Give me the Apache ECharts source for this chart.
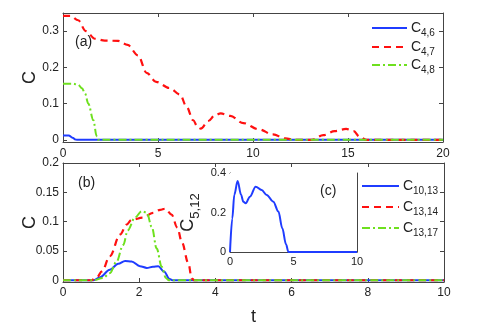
<!DOCTYPE html>
<html><head><meta charset="utf-8">
<script src="https://cdn.jsdelivr.net/npm/echarts@6/dist/echarts.min.js"></script>
<style>html,body{margin:0;padding:0;background:#fff}#c{width:491px;height:327px}</style>
</head><body><div id="c"></div>
<script>
// Panel (a): C vs t
const a_C46 = [[0,0.012],[0.3,0.012],[0.5,0.006],[0.65,0.001],[0.75,0],[20,0]];
const a_C47 = [[0,0.342],[0.4,0.342],[0.8,0.33],[1.2,0.30],[1.68,0.279],[2.2,0.274],[2.9,0.273],[3.4,0.262],[3.95,0.233],[4.4,0.185],[4.9,0.160],[5.6,0.143],[6.16,0.125],[6.5,0.092],[6.85,0.054],[7.1,0.034],[7.25,0.031],[7.65,0.052],[8.0,0.068],[8.3,0.073],[8.8,0.066],[9.5,0.046],[10.3,0.029],[11.05,0.015],[11.7,0.004],[12.2,0],[13.1,0],[13.7,0.013],[14.3,0.024],[14.9,0.030],[15.3,0.024],[15.6,0.009],[15.95,0],[20,0]];
const a_C48 = [[0,0.155],[0.5,0.155],[0.8,0.152],[1.0,0.142],[1.16,0.128],[1.33,0.10],[1.6,0.054],[1.77,0.01],[1.85,0],[20,0]];
// Panel (b)
const b_C1013 = [[0,0],[0.8,0],[0.97,0.005],[1.23,0.018],[1.45,0.028],[1.63,0.033],[1.8,0.032],[2.02,0.024],[2.2,0.021],[2.36,0.023],[2.5,0.024],[2.65,0.015],[2.8,0.002],[2.87,0],[10,0]];
const b_C1314 = [[0,0],[0.75,0],[0.9,0.006],[1.02,0.015],[1.23,0.041],[1.5,0.078],[1.67,0.095],[1.8,0.103],[2.1,0.107],[2.36,0.115],[2.55,0.120],[2.68,0.122],[2.85,0.112],[3.0,0.09],[3.12,0.065],[3.29,0.029],[3.38,0.003],[3.45,0],[10,0]];
const b_C1317 = [[0,0],[0.8,0],[1.05,0.004],[1.23,0.012],[1.4,0.031],[1.58,0.06],[1.7,0.085],[1.89,0.107],[2.07,0.118],[2.2,0.115],[2.33,0.091],[2.46,0.054],[2.59,0.023],[2.7,0.004],[2.78,0],[10,0]];
// Inset (c)
const c_C512 = [[0,0],[0.18,0.17],[0.34,0.29],[0.6,0.36],[0.87,0.29],[1.05,0.255],[1.24,0.247],[1.57,0.28],[2.02,0.331],[2.49,0.314],[2.89,0.289],[3.41,0.255],[3.81,0.205],[4.12,0.12],[4.41,0.039],[4.6,0],[10,0]];
// Ticks
const aXTicks = [0,5,10,15,20];
const aYTicks = [0,0.1,0.2,0.3];
const bXTicks = [0,2,4,6,8,10];
const bYTicks = [0,0.05,0.1,0.15,0.2];
const cXTicks = [0,5,10];
const cYTicks = [0,0.2,0.4];
// Legend subscripts
const legA = ['4,6','4,7','4,8'];
const legB = ['10,13','13,14','13,17'];

const AX = '#444', TXT = '#222';
const BLUE = '#1f3cff', RED = '#ff1010', GREEN = '#6ee01e';
const FONT = 'Liberation Sans';
const COLORS = [BLUE, RED, GREEN];
const DASH = [7,5], DASHDOT = [8,3,2,3];
const TYPES = ['solid', DASH, DASHDOT];

function xAx(grid, min, max, ticks, pos, show, lblSize, margin) {
  return {type:'value', gridIndex:grid, min:min, max:max, position:pos,
    axisLine:{show:true, onZero:false, lineStyle:{color:AX, width:1}},
    axisTick:{show:true, inside:true, length:4, customValues:ticks, lineStyle:{color:AX}},
    axisLabel:{show:show, customValues:ticks, color:TXT, fontSize:lblSize, fontFamily:FONT, margin:margin},
    splitLine:{show:false}};
}
function yAx(grid, min, max, ticks, pos, show, lblSize, margin, fmt) {
  return {type:'value', gridIndex:grid, min:min, max:max, position:pos,
    axisLine:{show:true, onZero:false, lineStyle:{color:AX, width:1}},
    axisTick:{show:true, inside:true, length:4, customValues:ticks, lineStyle:{color:AX}},
    axisLabel:{show:show, customValues:ticks, color:TXT, fontSize:lblSize, fontFamily:FONT, margin:margin, formatter:fmt},
    splitLine:{show:false}};
}
const fmtNum = v => String(+v.toFixed(3));
const nameStyle = {fontSize:18, color:TXT, fontFamily:FONT};

const xAxes = [
  xAx(0,0,20,aXTicks,'bottom',true,12,6),
  xAx(0,0,20,aXTicks,'top',false,12,6),
  Object.assign(xAx(1,0,10,bXTicks,'bottom',true,12,5),{name:'t',nameLocation:'middle',nameGap:26,nameMoveOverlap:false,nameTextStyle:nameStyle}),
  xAx(1,0,10,bXTicks,'top',false,12,5),
  xAx(2,0,10,cXTicks,'bottom',true,11,4),
  xAx(2,0,10,cXTicks,'top',false,11,4)
];
const yAxes = [
  Object.assign(yAx(0,-0.006,0.35,aYTicks,'left',true,12,4,fmtNum),{name:'C',nameLocation:'middle',nameGap:24,nameMoveOverlap:false,nameRotate:90,nameTextStyle:nameStyle}),
  yAx(0,-0.006,0.35,aYTicks,'right',false,12,4,fmtNum),
  Object.assign(yAx(1,-0.003,0.2,bYTicks,'left',true,12,4,fmtNum),{name:'C',nameLocation:'middle',nameGap:24,nameMoveOverlap:false,nameRotate:90,nameTextStyle:nameStyle}),
  yAx(1,-0.003,0.2,bYTicks,'right',false,12,4,fmtNum),
  Object.assign(yAx(2,0,0.4,cYTicks,'left',true,11,4,fmtNum),{name:'{c|C}{s|5,12}',nameLocation:'middle',nameGap:28,nameRotate:90,
     nameTextStyle:{color:TXT,fontFamily:FONT,rich:{c:{fontSize:18,fontFamily:FONT,color:TXT,verticalAlign:'bottom',lineHeight:18,padding:[0,0,5,0]},s:{fontSize:13,fontFamily:FONT,color:TXT,verticalAlign:'bottom',lineHeight:13}}}}),
  yAx(2,0,0.4,cYTicks,'right',false,11,4,fmtNum)
];

function ser(name, data, xi, yi, k, width) {
  return {name:name, type:'line', xAxisIndex:xi, yAxisIndex:yi, data:data, showSymbol:false, symbol:'none',
    smooth:0.35, smoothMonotone:'x', lineStyle:{color:COLORS[k], width:width, type:TYPES[k]}, itemStyle:{color:COLORS[k]}, z:3};
}
const series = [
  ser('C4,6', a_C46, 0, 0, 0, 2),
  ser('C4,7', a_C47, 0, 0, 1, 2.2),
  ser('C4,8', a_C48, 0, 0, 2, 2),
  ser('C10,13', b_C1013, 2, 2, 0, 2),
  ser('C13,14', b_C1314, 2, 2, 1, 2.2),
  ser('C13,17', b_C1317, 2, 2, 2, 2),
  Object.assign(ser('C5,12', c_C512, 4, 4, 0, 2), {z:5})
];

// legend drawn as graphic elements
function legendItems(subs, x0, x1, ys) {
  const els = [];
  subs.forEach((s, i) => {
    const y = ys[i];
    els.push({type:'line', z:20, shape:{x1:x0, y1:y, x2:x1, y2:y},
      style:{stroke:COLORS[i], lineWidth:2, lineDash: i === 0 ? null : TYPES[i]}});
    els.push({type:'text', z:20, x:x1 + 4, y:y, style:{text:'C', fontSize:14, fontFamily:FONT, fill:TXT, verticalAlign:'middle', align:'left'}});
    els.push({type:'text', z:20, x:x1 + 14, y:y + 5, style:{text:s, fontSize:10, fontFamily:FONT, fill:TXT, verticalAlign:'middle', align:'left'}});
  });
  return els;
}

const option = {
  animation:false,
  backgroundColor:'#fff',
  grid:[
    {left:63, top:13, width:380, height:129, containLabel:false},
    {left:63, top:163, width:381, height:130, containLabel:false},
    {left:230, top:173, width:127, height:79, containLabel:false, show:true, backgroundColor:'#fff', borderWidth:0, z:4}
  ],
  xAxis:xAxes,
  yAxis:yAxes,
  graphic:[
    {type:'text', left:75, top:35, style:{text:'(a)', fontSize:14, fontFamily:FONT, fill:TXT}},
    {type:'text', left:78, top:176, style:{text:'(b)', fontSize:14, fontFamily:FONT, fill:TXT}},
    {type:'text', left:320, top:184, z:10, style:{text:'(c)', fontSize:14, fontFamily:FONT, fill:TXT}}
  ].concat(legendItems(legA, 372, 407, [28,47,65]))
   .concat(legendItems(legB, 362, 399, [186,207,228])),
  series:series
};
const chart = echarts.init(document.getElementById('c'), null, {renderer:'canvas'});
chart.setOption(option);
</script></body></html>
